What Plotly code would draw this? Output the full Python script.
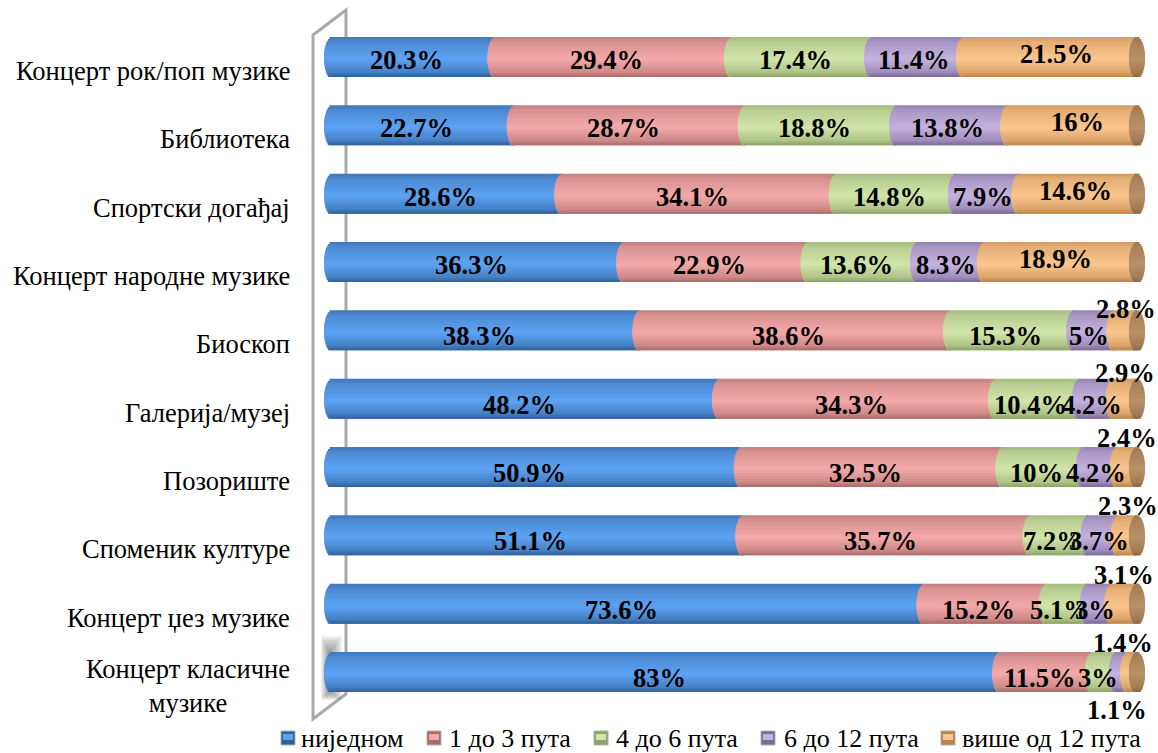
import numpy as np
import plotly.graph_objects as go

W, H = 1158, 753

categories = ['Концерт рок/поп музике', 'Библиотека', 'Спортски догађај', 'Концерт народне музике',
              'Биоскоп', 'Галерија/музеј', 'Позориште', 'Споменик културе', 'Концерт џез музике',
              'Концерт класичне<br>музике']
series_names = ['ниједном', '1 до 3 пута', '4 до 6 пута', '6 до 12 пута', 'више од 12 пута']

nijednom = [20.3, 22.7, 28.6, 36.3, 38.3, 48.2, 50.9, 51.1, 73.6, 83]
od1do3 = [29.4, 28.7, 34.1, 22.9, 38.6, 34.3, 32.5, 35.7, 15.2, 11.5]
od4do6 = [17.4, 18.8, 14.8, 13.6, 15.3, 10.4, 10, 7.2, 5.1, 3]
od6do12 = [11.4, 13.8, 7.9, 8.3, 5, 4.2, 4.2, 3.7, 3, 1.4]
preko12 = [21.5, 16, 14.6, 18.9, 2.8, 2.9, 2.4, 2.3, 3.1, 1.1]

# (edge dark, centre bright) for each cylinder colour
series_colors = [('#2f5f98', '#5ea3f5'), ('#a96a68', '#f4aaa8'), ('#8ba366', '#d3e6aa'),
                 ('#7b6a9a', '#c4b3df'), ('#bd8348', '#fbc78e')]
cap_colors = ('#8a6845', '#bb9166')

PX_PER_UNIT = 8.05
X0_PX = 332
ROW0_PX = 57
ROW_STEP = 68.33
BAR_PX = 40
CAP = 8 / PX_PER_UNIT
N_BANDS = 20


def hex_rgb(c):
    return np.array([int(c[i:i + 2], 16) for i in (1, 3, 5)], dtype=float)


def shade(edge, centre, t):
    # t runs -1 (top) to 1 (bottom); brightest a little below the middle
    f = np.interp(t, [-1, -0.75, 0.1, 0.75, 1], [0.35, 0.62, 1, 0.5, 0])
    c = hex_rgb(edge) + (hex_rgb(centre) - hex_rgb(edge)) * f
    return 'rgb(%d,%d,%d)' % tuple(c)


def px(x):
    return x / W


def py(y):
    return 1 - y / H


band_h = BAR_PX / ROW_STEP / N_BANDS
ts = (np.arange(N_BANDS) + 0.5) / N_BANDS * 2 - 1
bulge = CAP * np.sqrt(1 - ts ** 2)
rows = np.arange(len(categories))


def band_arrays(start, length):
    ys, xs, bases, offsets, widths = [], [], [], [], []
    for k, t in enumerate(ts):
        ys += list(rows)
        xs += list(length(k))
        bases += list(start(k))
        top = t * BAR_PX / ROW_STEP / 2 - band_h / 2
        offsets += [top] * len(rows)
        # each band reaches into the next one so no seams show
        widths += [band_h * (2 if k < N_BANDS - 1 else 1)] * len(rows)
    return ys, xs, bases, offsets, widths


fig = go.Figure()

# each cylinder segment is one bar trace cut into thin horizontal bands
columns = [nijednom, od1do3, od4do6, od6do12, preko12]
cum = np.zeros(len(categories))
for name, vals, (edge, centre) in zip(series_names, columns, series_colors):
    vals = np.array(vals, dtype=float)
    c0 = cum.copy()
    ys, xs, bases, offsets, widths = band_arrays(lambda k: c0 - bulge[k], lambda k: vals + bulge[k])
    colors = [shade(edge, centre, t) for t in ts for _ in rows]
    fig.add_trace(go.Bar(y=ys, x=xs, base=bases, offset=offsets, width=widths,
                         orientation='h', name=name, showlegend=False, hoverinfo='skip',
                         marker=dict(color=colors, line_width=0)))
    cum = cum + vals

# right end cap of the cylinder
ys, xs, bases, offsets, widths = band_arrays(lambda k: cum - bulge[k], lambda k: 2 * bulge[k] * np.ones(len(rows)))
colors = [shade(cap_colors[0], cap_colors[1], t) for t in ts for _ in rows]
fig.add_trace(go.Bar(y=ys, x=xs, base=bases, offset=offsets, width=widths, orientation='h',
                     showlegend=False, hoverinfo='skip', marker=dict(color=colors, line_width=0)))

annotations = []
LABEL_FONT = dict(family='Liberation Serif', size=26.5, color='black')
TEXT_FONT = dict(family='Liberation Serif', size=26.5, color='black')

# orange labels were hand placed in the original
orange_xshift = [6, 5, -3, -5, 0, 0, 0, 0, -1, -16]

# data labels
cum = np.zeros(len(categories))
for s, vals in enumerate(columns):
    for r, v in enumerate(vals):
        yshift = -3 if r < 4 else -6
        xshift = -7 if s < 3 else -5
        if s == 4:
            xshift = orange_xshift[r]
            yshift = 3
            if v < 4:
                yshift = 21 if r == 4 else 26 if r == 5 else 29
                if r == 9:
                    yshift = -38
        if s == 3 and r == 9:
            xshift = 0
            yshift = 29
        annotations.append(dict(x=cum[r] + v / 2, y=r, xref='x', yref='y', text='<b>%g%%</b>' % v,
                                showarrow=False, xshift=xshift, yshift=yshift, font=LABEL_FONT))
    cum = cum + np.array(vals)

# category labels, sitting a bit lower than their bars
for r, cat in enumerate(categories):
    annotations.append(dict(x=px(292), y=r, xref='paper', yref='y', text=cat, showarrow=False,
                            xanchor='right', align='center', yshift=-14, font=TEXT_FONT))

# gray 3D wall behind the bars
shapes = []
wall = 'M %f %f L %f %f L %f %f L %f %f Z' % (px(313), py(35), px(346), py(10), px(346), py(694), px(313), py(719))
shapes.append(dict(type='path', path=wall, xref='paper', yref='paper', layer='below',
                   line=dict(color='#a9a9a9', width=3), fillcolor='white'))
# soft shadow of the last bar on the wall
for i in range(8):
    shapes.append(dict(type='rect', xref='paper', yref='paper', layer='below',
                       x0=px(321 + i), x1=px(342 - i * 1.5), y0=py(700 - i), y1=py(636 + i * 2),
                       fillcolor='rgba(90,90,90,0.09)', line_width=0))

# legend row
swatch_x = [281, 427, 594, 761, 941]
text_x = [299, 447, 614, 782, 960]
for name, (edge, centre), sx, tx in zip(series_names, series_colors, swatch_x, text_x):
    shapes.append(dict(type='rect', xref='paper', yref='paper', x0=px(sx), x1=px(sx + 14),
                       y0=py(745), y1=py(731), fillcolor=edge, line=dict(color='#b0b0b0', width=1)))
    shapes.append(dict(type='rect', xref='paper', yref='paper', x0=px(sx + 2), x1=px(sx + 12),
                       y0=py(740), y1=py(734), fillcolor=centre, line_width=0))
    annotations.append(dict(x=px(tx), y=py(738), xref='paper', yref='paper', text=name, showarrow=False,
                            xanchor='left', yanchor='middle',
                            font=dict(family='Liberation Serif', size=26, color='black')))

fig.update_layout(width=W, height=H, margin=dict(l=0, r=0, t=0, b=0),
                  barmode='overlay', showlegend=False,
                  plot_bgcolor='white', paper_bgcolor='white',
                  shapes=shapes, annotations=annotations)
fig.update_xaxes(range=[-X0_PX / PX_PER_UNIT, (W - X0_PX) / PX_PER_UNIT], visible=False)
fig.update_yaxes(range=[(H - ROW0_PX) / ROW_STEP, -ROW0_PX / ROW_STEP], visible=False)

fig.write_html('out.html', config=dict(displayModeBar=False), post_script="document.body.style.margin='0';")
